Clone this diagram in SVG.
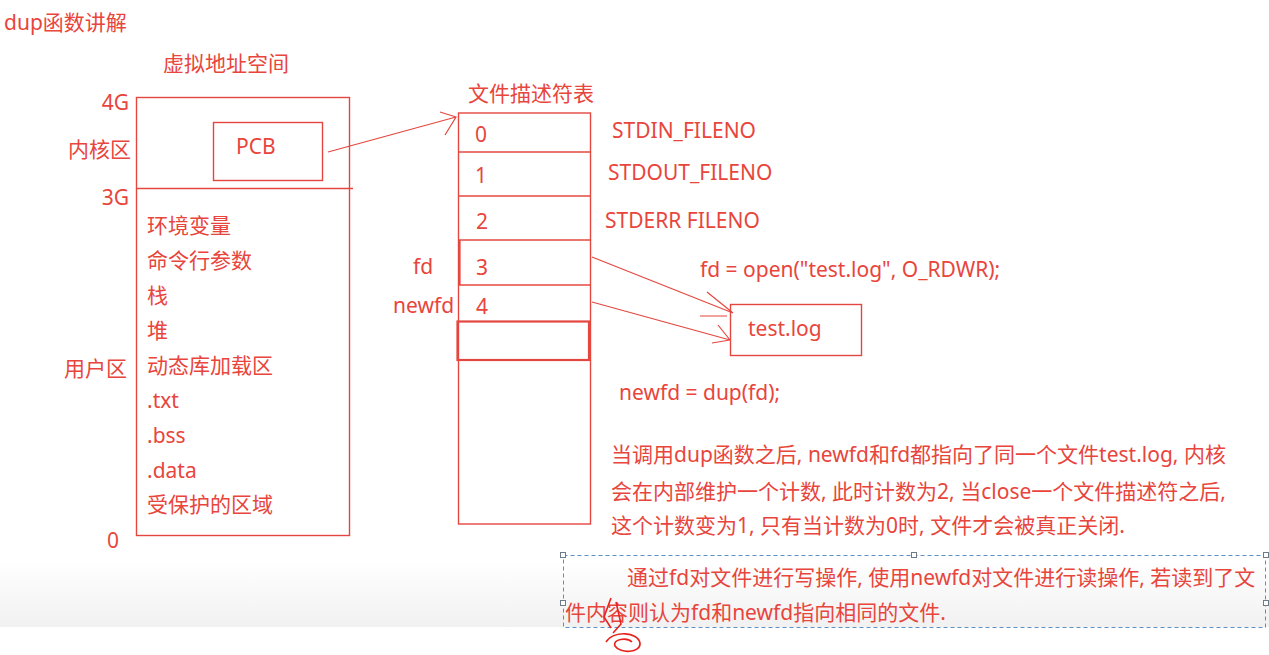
<svg xmlns="http://www.w3.org/2000/svg" width="1269" height="655" viewBox="0 0 1269 655">
<defs>
<linearGradient id="bg" x1="0" y1="0" x2="0" y2="1"><stop offset="0" stop-color="#ffffff"/><stop offset="1" stop-color="#f1f1f1"/></linearGradient>
<style>
text{font-family:"Noto Sans","Noto Sans CJK SC",sans-serif;font-size:21px;fill:#e8453c}
.r{text-anchor:end}
.box{fill:none;stroke:#e4473f;stroke-width:1.4}
.thick{fill:none;stroke:#e4473f;stroke-width:2.2}
.ln{fill:none;stroke:#e4473f;stroke-width:1.2}
.h{fill:#fff;stroke:#6d7a88;stroke-width:1}
</style>
</defs>
<rect width="1269" height="655" fill="#fff"/>
<rect x="0" y="560" width="1269" height="67" fill="url(#bg)"/>
<text x="4" y="30">dup函数讲解</text>
<g id="vas">
<text x="163" y="71">虚拟地址空间</text>
<rect class="box" x="136.5" y="97.5" width="213" height="438"/>
<line class="box" x1="136" y1="188.5" x2="353" y2="188.5"/>
<text class="r" x="129" y="110">4G</text>
<text class="r" x="131" y="157">内核区</text>
<text class="r" x="129" y="205">3G</text>
<text class="r" x="127" y="376">用户区</text>
<text class="r" x="119" y="548">0</text>
<text x="147" y="233">环境变量</text>
<text x="147" y="268">命令行参数</text>
<text x="147" y="303">栈</text>
<text x="147" y="338">堆</text>
<text x="147" y="373">动态库加载区</text>
<text x="147" y="408">.txt</text>
<text x="147" y="443">.bss</text>
<text x="147" y="478">.data</text>
<text x="147" y="512">受保护的区域</text>
</g>
<g id="pcb">
<rect class="box" x="213.5" y="122.5" width="109" height="58"/>
<text x="236" y="154">PCB</text>
</g>
<g id="fdtable">
<text x="468" y="101">文件描述符表</text>
<rect class="box" x="458.5" y="113" width="132" height="411"/>
<line class="box" x1="458" y1="152" x2="590" y2="152"/>
<line class="box" x1="458" y1="196" x2="590" y2="196"/>
<line class="box" x1="458" y1="240" x2="590" y2="240"/>
<line class="box" x1="458" y1="285" x2="590" y2="285"/>
<line class="thick" x1="459.5" y1="240" x2="459.5" y2="285"/>
<rect class="thick" x="457.5" y="321.5" width="131.5" height="38.5"/>
<text x="475" y="142">0</text>
<text x="475" y="183">1</text>
<text x="476" y="229">2</text>
<text x="476" y="275">3</text>
<text x="476" y="314">4</text>
<text x="612" y="138">STDIN_FILENO</text>
<text x="608" y="180">STDOUT_FILENO</text>
<text x="605" y="228">STDERR FILENO</text>
<text x="413" y="274">fd</text>
<text x="393" y="313">newfd</text>
</g>
<g id="testlog">
<rect class="box" x="730.5" y="304.5" width="131" height="51"/>
<text x="748" y="336">test.log</text>
</g>
<g id="connectors">
<path class="ln" d="M328,152 L456,117 M440,112 L456,117 L445,135"/>
<path class="ln" d="M592,257 L733,313 M707,292 L733,313 M700,316 L727,316"/>
<path class="ln" d="M592,302 L730,340 M718,325 L730,340 M712,343 L730,340"/>
</g>
<g id="notes">
<text x="700" y="277">fd = open("test.log", O_RDWR);</text>
<text x="619" y="400">newfd = dup(fd);</text>
<text x="611" y="462">当调用dup函数之后, newfd和fd都指向了同一个文件test.log, 内核</text>
<text x="611" y="499">会在内部维护一个计数, 此时计数为2, 当close一个文件描述符之后,</text>
<text x="611" y="533">这个计数变为1, 只有当计数为0时, 文件才会被真正关闭.</text>
</g>
<g id="selection">
<rect x="563.5" y="555.5" width="702" height="72" fill="none" stroke="#5b8fc9" stroke-width="1" stroke-dasharray="4,3"/>
<rect class="h" x="560.5" y="552.5" width="5" height="5"/>
<rect class="h" x="911.5" y="552.5" width="5" height="5"/>
<rect class="h" x="1263.5" y="552.5" width="5" height="5"/>
<rect class="h" x="560.5" y="600.5" width="5" height="5"/>
<rect class="h" x="1263.5" y="600.5" width="5" height="5"/>
<text x="627" y="585">通过fd对文件进行写操作, 使用newfd对文件进行读操作, 若读到了文</text>
<text x="565" y="620">件内容则认为fd和newfd指向相同的文件.</text>
<path d="M611,598 L604,617 L611,628 M616,602 L621,624 L613,633 M606,642 C614,630 638,632 640,643 C641,653 620,654 615,646 C612,639 627,637 632,642" fill="none" stroke="#e8221c" stroke-width="1.6"/>
</g>
</svg>
